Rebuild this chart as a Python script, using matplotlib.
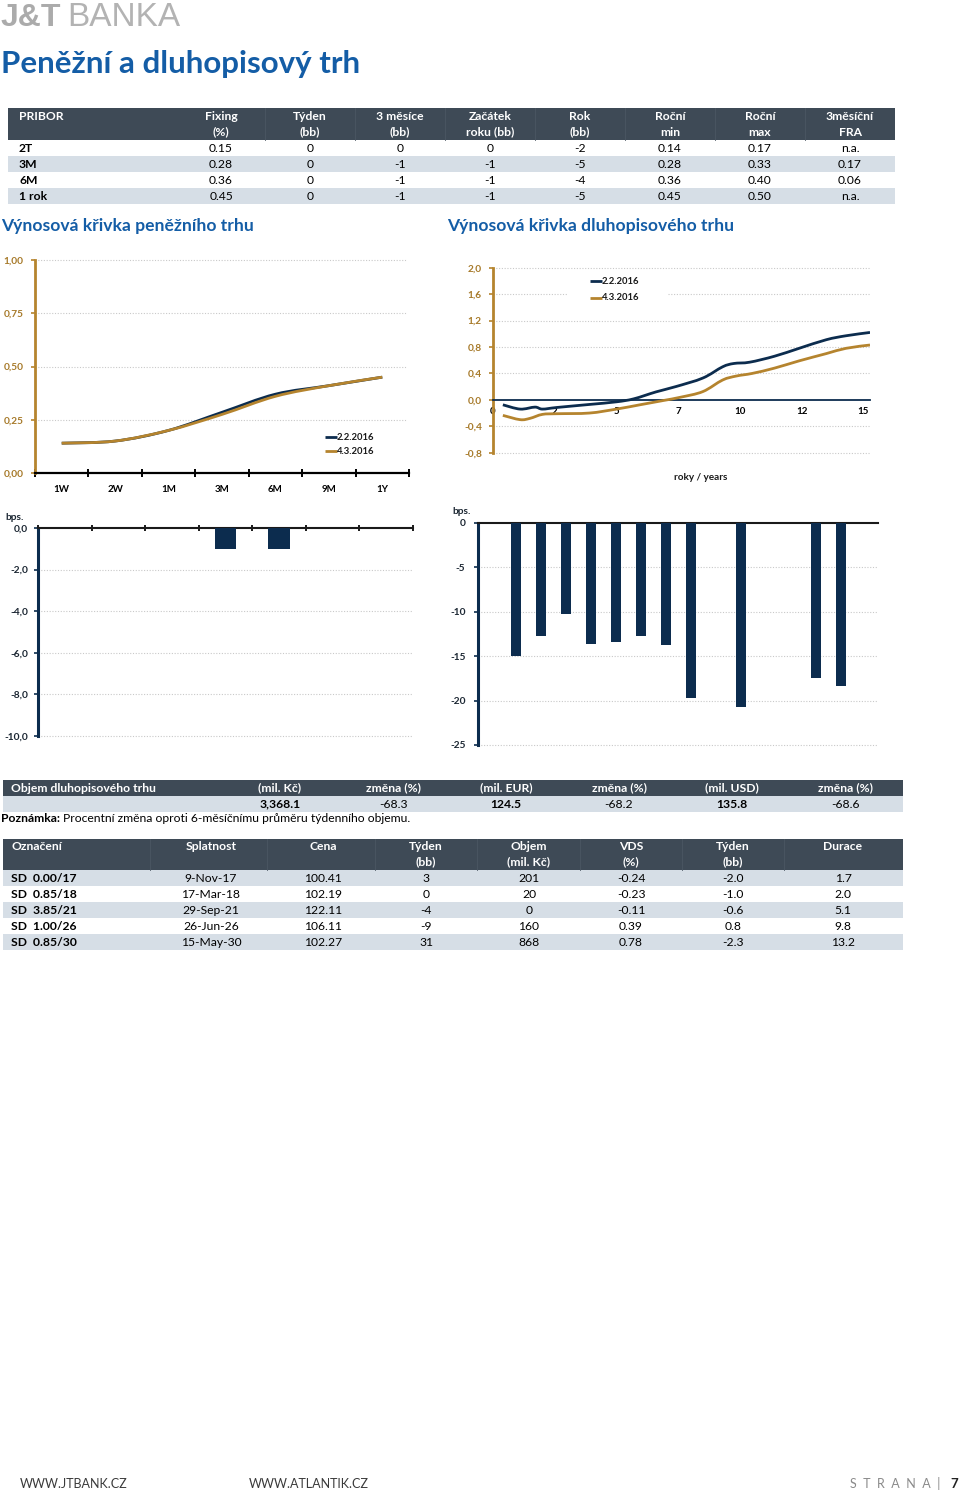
import matplotlib
matplotlib.use('Agg')
import matplotlib.pyplot as plt
from matplotlib.patches import Rectangle, PathPatch
from matplotlib.path import Path
from matplotlib.ticker import FixedLocator

plt.rcParams['font.family'] = ['Lato', 'DejaVu Sans']

# ---------------- data ----------------
pribor_cols = ['Fixing\n(%)', 'Týden\n(bb)', '3 měsíce\n(bb)', 'Začátek\nroku (bb)', 'Rok\n(bb)',
               'Roční\nmin', 'Roční\nmax', '3měsíční\nFRA']
pribor_tenors = ['2T', '3M', '6M', '1 rok']
pribor_fixing = ['0.15', '0.28', '0.36', '0.45']
pribor_week = ['0', '0', '0', '0']
pribor_3m = ['0', '-1', '-1', '-1']
pribor_ytd = ['0', '-1', '-1', '-1']
pribor_year = ['-2', '-5', '-4', '-5']
pribor_min = ['0.14', '0.28', '0.36', '0.45']
pribor_max = ['0.17', '0.33', '0.40', '0.50']
pribor_fra = ['n.a.', '0.17', '0.06', 'n.a.']

mm_tenors = ['1W', '2W', '1M', '3M', '6M', '9M', '1Y']
mm_curve_feb = [0.14, 0.15, 0.20, 0.285, 0.37, 0.41, 0.45]
mm_curve_mar = [0.14, 0.15, 0.20, 0.275, 0.36, 0.41, 0.45]
mm_yticks = [0, 0.25, 0.5, 0.75, 1.0]
mm_ytick_labels = ['0,00', '0,25', '0,50', '0,75', '1,00']
mm_change_bps = [0, 0, 0, -1, -1, 0, 0]
mm_change_yticks = [-10, -8, -6, -4, -2, 0]
mm_change_ytick_labels = ['-10,0', '-8,0', '-6,0', '-4,0', '-2,0', '0,0']

bond_years_feb = [0.4, 1.1, 1.7, 2.0, 2.6, 3.9, 5.0, 5.7, 6.6, 7.4, 8.5, 9.3, 9.75, 10.4, 11.4, 12.4, 13.5, 14.3, 15.27]
bond_yield_feb = [-0.075, -0.14, -0.11, -0.14, -0.115, -0.07, -0.03, 0.015, 0.12, 0.20, 0.33, 0.50, 0.55, 0.57, 0.66, 0.78, 0.91, 0.97, 1.02]
bond_years_mar = [0.4, 1.1, 1.5, 2.0, 2.6, 3.9, 5.0, 5.95, 6.9, 7.6, 8.5, 9.3, 9.85, 10.5, 11.4, 12.4, 13.5, 14.3, 15.27]
bond_yield_mar = [-0.235, -0.30, -0.28, -0.22, -0.21, -0.20, -0.14, -0.075, -0.01, 0.04, 0.125, 0.30, 0.36, 0.40, 0.48, 0.59, 0.70, 0.78, 0.83]
bond_xticks = [0, 2.5, 5, 7.5, 10, 12.5, 15]
bond_xtick_labels = ['0', '2', '5', '7', '10', '12', '15']
bond_yticks = [-0.8, -0.4, 0, 0.4, 0.8, 1.2, 1.6, 2.0]
bond_ytick_labels = ['-0,8', '-0,4', '0,0', '0,4', '0,8', '1,2', '1,6', '2,0']

bond_maturity_years = [1, 2, 3, 4, 5, 6, 7, 8, 10, 13, 14]
bond_change_bps = [-15.0, -12.7, -10.3, -13.6, -13.4, -12.7, -13.7, -19.7, -20.7, -17.4, -18.4]
bond_change_yticks = [-25, -20, -15, -10, -5, 0]
bond_change_ytick_labels = ['-25', '-20', '-15', '-10', '-5', '0']

vol_headers = ['(mil. Kč)', 'změna (%)', '(mil. EUR)', 'změna (%)', '(mil. USD)', 'změna (%)']
vol_values = ['3,368.1', '-68.3', '124.5', '-68.2', '135.8', '-68.6']

bond_cols = ['Splatnost', 'Cena', 'Týden\n(bb)', 'Objem\n(mil. Kč)', 'VDS\n(%)', 'Týden\n(bb)', 'Durace']
bond_names = ['SD  0.00/17', 'SD  0.85/18', 'SD  3.85/21', 'SD  1.00/26', 'SD  0.85/30']
bond_maturity = ['9-Nov-17', '17-Mar-18', '29-Sep-21', '26-Jun-26', '15-May-30']
bond_price = ['100.41', '102.19', '122.11', '106.11', '102.27']
bond_week_px = ['3', '0', '-4', '-9', '31']
bond_volume = ['201', '20', '0', '160', '868']
bond_ytm = ['-0.24', '-0.23', '-0.11', '0.39', '0.78']
bond_week_ytm = ['-2.0', '-1.0', '-0.6', '0.8', '-2.3']
bond_duration = ['1.7', '2.0', '5.1', '9.8', '13.2']

# ---------------- style ----------------
W, H = 960, 1495
DARK = '#3e4a56'
LIGHT = '#d6dee6'
BLUE = '#145da6'
NAVY = '#0c2c4e'
GOLD = '#b5842e'
GOLDTXT = '#a77a2a'
GRID = '#c9c9c9'
TS = 8.7   # table font size
AS = 7.3   # axis label font size

fig = plt.figure(figsize=(W / 100, H / 100), dpi=100)
bg = fig.add_axes([0, 0, 1, 1], zorder=0)
bg.set_xlim(0, W)
bg.set_ylim(H, 0)
bg.axis('off')


def axes_px(x0, y0, x1, y1, z=2):
    a = fig.add_axes([x0 / W, 1 - y1 / H, (x1 - x0) / W, (y1 - y0) / H], zorder=z)
    a.set_facecolor('none')
    return a


def rect(x0, y0, x1, y1, color):
    bg.add_patch(Rectangle((x0, y0), x1 - x0, y1 - y0, facecolor=color, edgecolor='none'))


def txt(x, y, s, ha='center', size=TS, color='black', weight='normal', **kw):
    bg.text(x, y, s, ha=ha, va='center', fontsize=size, color=color, fontweight=weight, **kw)


# ---------------- header ----------------
bg.text(1, 26, 'J&T', ha='left', va='baseline', fontsize=23, color='#ababab', fontweight='bold',
        family='Liberation Sans')
bg.text(67, 26, 'BANKA', ha='left', va='baseline', fontsize=24, color='#b3b3b3', fontweight='normal',
        family='Liberation Sans')
txt(1, 64, 'Peněžní a dluhopisový trh', ha='left', size=22.5, color=BLUE, weight='bold')

# ---------------- PRIBOR table ----------------
rect(8, 108, 895, 140, DARK)
pcenters = [221, 310, 400, 490, 580, 670, 760, 850]
for xc in [265, 355, 445, 535, 625, 715, 805]:
    bg.plot([xc, xc], [108, 140], color='#4a5662', lw=0.6)
txt(19, 117, 'PRIBOR', ha='left', color='white', weight='bold')
for xc, lab in zip(pcenters, pribor_cols):
    l1, l2 = lab.split('\n')
    txt(xc, 117, l1, color='white', weight='bold')
    txt(xc, 132, l2, color='white', weight='bold')
pcols = [pribor_fixing, pribor_week, pribor_3m, pribor_ytd, pribor_year, pribor_min, pribor_max, pribor_fra]
for i, ten in enumerate(pribor_tenors):
    y0 = 140 + 16 * i
    if i % 2 == 1:
        rect(8, y0, 895, y0 + 16, LIGHT)
    txt(19, y0 + 8, ten, ha='left', weight='bold')
    for xc, col in zip(pcenters, pcols):
        txt(xc, y0 + 8, col[i])

txt(1, 226, 'Výnosová křivka peněžního trhu', ha='left', size=12.6, color=BLUE, weight='bold')
txt(447, 226, 'Výnosová křivka dluhopisového trhu', ha='left', size=12.6, color=BLUE, weight='bold')


def smooth_path(xs, ys):
    verts = [(xs[0], ys[0])]
    codes = [Path.MOVETO]
    n = len(xs)
    for i in range(n - 1):
        a = i - 1 if i > 0 else i
        b = i + 2 if i + 2 < n else i + 1
        c1 = (xs[i] + (xs[i + 1] - xs[a]) / 6, ys[i] + (ys[i + 1] - ys[a]) / 6)
        c2 = (xs[i + 1] - (xs[b] - xs[i]) / 6, ys[i + 1] - (ys[b] - ys[i]) / 6)
        verts += [c1, c2, (xs[i + 1], ys[i + 1])]
        codes += [Path.CURVE4] * 3
    return Path(verts, codes)


def grid_lines(ax, vals, x0, x1):
    for v in vals:
        ax.plot([x0, x1], [v, v], color=GRID, lw=0.8, ls=(0, (1, 1.5)), zorder=0, clip_on=False)


def yticks_bold(ax, ticks, labels, tcolor, lcolor, pad):
    ax.set_yticks(ticks)
    ax.set_yticklabels(labels, fontsize=AS, fontweight='bold', color=lcolor)
    ax.tick_params(axis='y', colors=tcolor, labelcolor=lcolor, length=3, width=1.2, pad=pad)


# ---------------- money market curve ----------------
ax1 = axes_px(35, 260, 409, 473)
ax1.set_xlim(-0.5, 6.5)
ax1.set_ylim(0, 1.0)
grid_lines(ax1, [0.25, 0.5, 0.75, 1.0], -0.5, 6.45)
xi = list(range(len(mm_tenors)))
ax1.add_patch(PathPatch(smooth_path(xi, mm_curve_feb), fill=False, edgecolor=NAVY, lw=2.0, zorder=3))
ax1.add_patch(PathPatch(smooth_path(xi, mm_curve_mar), fill=False, edgecolor=GOLD, lw=2.0, zorder=4))
for s in ['top', 'right']:
    ax1.spines[s].set_visible(False)
ax1.spines['left'].set_color(GOLD)
ax1.spines['left'].set_linewidth(2)
ax1.spines['bottom'].set_color('black')
ax1.spines['bottom'].set_linewidth(1.6)
yticks_bold(ax1, mm_yticks, mm_ytick_labels, GOLD, GOLDTXT, 5)
ax1.set_xticks(xi)
ax1.set_xticklabels(mm_tenors, fontsize=AS - 0.3, fontweight='bold')
ax1.xaxis.set_minor_locator(FixedLocator([i - 0.5 for i in range(len(mm_tenors) + 1)]))
ax1.tick_params(axis='x', which='major', length=0, pad=8.5)
ax1.tick_params(axis='x', which='minor', length=6, width=1.4, direction='inout', color='black')

# ---------------- bond curve ----------------
ax2 = axes_px(493, 267.7, 870, 452.7)
ax2.set_xlim(0, 15.27)
ax2.set_ylim(-0.8, 2.0)
grid_lines(ax2, [-0.8, -0.4, 0.4, 0.8, 1.2, 1.6, 2.0], 0, 15.27)
ax2.add_patch(PathPatch(smooth_path(bond_years_feb, bond_yield_feb), fill=False, edgecolor=NAVY, lw=2.0, zorder=3))
ax2.add_patch(PathPatch(smooth_path(bond_years_mar, bond_yield_mar), fill=False, edgecolor=GOLD, lw=2.0, zorder=4))
for s in ['top', 'right']:
    ax2.spines[s].set_visible(False)
ax2.spines['left'].set_color(GOLD)
ax2.spines['left'].set_linewidth(2)
ax2.spines['bottom'].set_position(('data', 0))
ax2.spines['bottom'].set_color(NAVY)
ax2.spines['bottom'].set_linewidth(1.3)
yticks_bold(ax2, bond_yticks, bond_ytick_labels, GOLD, GOLDTXT, 5)
ax2.set_xticks(bond_xticks)
ax2.set_xticklabels(bond_xtick_labels, fontsize=AS - 0.3, fontweight='bold')
ax2.tick_params(axis='x', length=0, pad=5)

# ---------------- money market change bars ----------------
ax3 = axes_px(38, 528, 413, 736)
ax3.set_xlim(-0.5, 6.5)
ax3.set_ylim(-10, 0)
grid_lines(ax3, [-2, -4, -6, -8, -10], -0.5, 6.5)
ax3.bar(xi, mm_change_bps, width=0.4, color=NAVY, zorder=3)
for s in ['top', 'right']:
    ax3.spines[s].set_visible(False)
ax3.spines['left'].set_color(NAVY)
ax3.spines['left'].set_linewidth(2.2)
ax3.spines['bottom'].set_position(('data', 0))
ax3.spines['bottom'].set_color('#1a1a1a')
ax3.spines['bottom'].set_linewidth(1.5)
yticks_bold(ax3, mm_change_yticks, mm_change_ytick_labels, NAVY, '#1c2733', 4)
ax3.set_xticks([])
ax3.xaxis.set_minor_locator(FixedLocator([i - 0.5 for i in range(len(mm_tenors) + 1)]))
ax3.tick_params(axis='x', which='minor', length=5, width=1.4, direction='inout', color='#1a1a1a')

# ---------------- bond change bars ----------------
ax4 = axes_px(478, 523, 878, 745)
ax4.set_xlim(-0.5, 15.5)
ax4.set_ylim(-25, 0)
grid_lines(ax4, [-5, -10, -15, -20, -25], -0.5, 15.5)
ax4.bar(bond_maturity_years, bond_change_bps, width=0.4, color=NAVY, zorder=3)
for s in ['top', 'right']:
    ax4.spines[s].set_visible(False)
ax4.spines['left'].set_color(NAVY)
ax4.spines['left'].set_linewidth(2.2)
ax4.spines['bottom'].set_position(('data', 0))
ax4.spines['bottom'].set_color('#1a1a1a')
ax4.spines['bottom'].set_linewidth(1.5)
yticks_bold(ax4, bond_change_yticks, bond_change_ytick_labels, NAVY, '#1c2733', 6)
ax4.set_xticks([])

# ---------------- foreground overlay (legends, labels) ----------------
fg = fig.add_axes([0, 0, 1, 1], zorder=10)
fg.set_xlim(0, W)
fg.set_ylim(H, 0)
fg.axis('off')
fg.set_facecolor('none')


def legend_at(x, y, color, label):
    fg.plot([x, x + 12], [y, y], color=color, lw=2.0, solid_capstyle='butt')
    fg.text(x + 12, y, label, ha='left', va='center', fontsize=6.8, fontweight='bold', color='#1a1a1a')


legend_at(325, 437, NAVY, '2.2.2016')
legend_at(325, 451, GOLD, '4.3.2016')
fg.add_patch(Rectangle((568, 272), 100, 34, facecolor='white', edgecolor='none'))
legend_at(590, 281, NAVY, '2.2.2016')
legend_at(590, 298, GOLD, '4.3.2016')
fg.text(701, 478, 'roky / years', ha='center', va='center', fontsize=7.2, fontweight='bold', color='#1a1a1a')
fg.text(5, 518, 'bps.', ha='left', va='center', fontsize=AS, fontweight='bold', color='#1c2733')
fg.text(452, 511, 'bps.', ha='left', va='center', fontsize=AS, fontweight='bold', color='#1c2733')

# ---------------- volume table ----------------
rect(3, 780, 903, 796, DARK)
rect(3, 796, 903, 812, LIGHT)
vcenters = [280, 393, 506, 619, 732, 845]
txt(11, 788, 'Objem dluhopisového trhu', ha='left', color='white', weight='bold')
for i, (xc, h, v) in enumerate(zip(vcenters, vol_headers, vol_values)):
    txt(xc, 788, h, color='white', weight='bold')
    txt(xc, 804, v, weight='bold' if i % 2 == 0 else 'normal')
bg.text(1, 819, 'Poznámka:', ha='left', va='center', fontsize=TS, fontweight='bold')
bg.text(63, 819, 'Procentní změna oproti 6-měsíčnímu průměru týdenního objemu.', ha='left', va='center',
        fontsize=TS)

# ---------------- bonds table ----------------
rect(3, 839, 903, 870, DARK)
bcenters = [211, 323, 426, 529, 631, 733, 843]
for xc in [150, 267, 375, 477, 580, 682, 784]:
    bg.plot([xc, xc], [839, 870], color='#4a5662', lw=0.6)
txt(11, 847, 'Označení', ha='left', color='white', weight='bold')
for xc, lab in zip(bcenters, bond_cols):
    parts = lab.split('\n')
    txt(xc, 847, parts[0], color='white', weight='bold')
    if len(parts) > 1:
        txt(xc, 862, parts[1], color='white', weight='bold')
bcols = [bond_maturity, bond_price, bond_week_px, bond_volume, bond_ytm, bond_week_ytm, bond_duration]
for i, nm in enumerate(bond_names):
    y0 = 870 + 16 * i
    if i % 2 == 0:
        rect(3, y0, 903, y0 + 16, LIGHT)
    txt(11, y0 + 8, nm, ha='left', weight='bold')
    for xc, col in zip(bcenters, bcols):
        txt(xc, y0 + 8, col[i])

# ---------------- footer ----------------
txt(20, 1484, 'WWW.JTBANK.CZ', ha='left', size=9, color='#3a3a3a')
txt(249, 1484, 'WWW.ATLANTIK.CZ', ha='left', size=9, color='#3a3a3a')
txt(940, 1484, 'S  T  R  A  N  A  |', ha='right', size=9, color='#8a8a8a')
txt(958, 1484, '7', ha='right', size=9.5, color='#222222', weight='bold')

fig.savefig('out.png', dpi=100)
